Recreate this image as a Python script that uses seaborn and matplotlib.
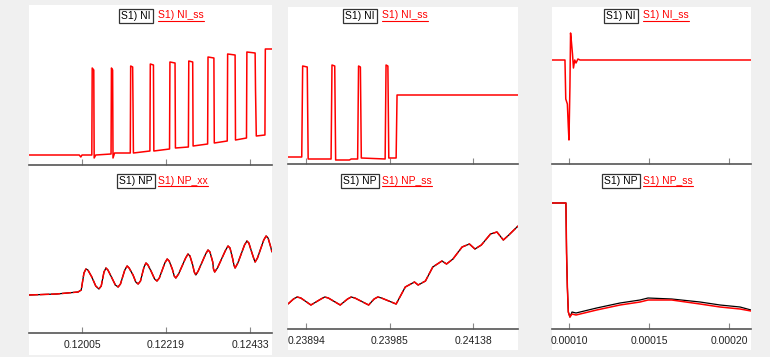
import numpy as np
import pandas as pd
import matplotlib.pyplot as plt
from matplotlib.patches import Rectangle
from matplotlib.lines import Line2D
import seaborn as sns

W, H = 770, 357
RED = "#ff0000"

# ---- column 1 (time in ms) ----
c1_ni_t = [118.70, 119.98, 120.02, 120.05, 120.30, 120.31, 120.35, 120.36, 120.40,
           120.79, 120.80, 120.83, 120.84, 120.88, 121.28, 121.29, 121.34, 121.35,
           121.36, 121.78, 121.79, 121.87, 121.88, 122.28, 122.29, 122.42, 122.43,
           122.76, 122.77, 122.87, 122.88, 123.25, 123.26, 123.41, 123.42, 123.75,
           123.76, 123.95, 123.96, 124.24, 124.25, 124.46, 124.47, 124.49, 124.71,
           124.72, 124.89]
c1_ni_v = [10, 10, 8, 10, 10, 97, 95, 7, 10,
           11, 97, 95, 7, 12, 12, 99, 98, 59,
           12, 14, 101, 100, 14, 16, 103, 102, 17,
           18, 104, 103, 19, 21, 108, 107, 22, 24,
           111, 110, 25, 27, 113, 112, 75, 29, 30,
           116, 116]
c1_np_t = [118.70, 119.40, 119.95, 120.03, 120.10, 120.15, 120.20, 120.30, 120.40,
           120.48, 120.54, 120.61, 120.66, 120.71, 120.80, 120.90, 120.97, 121.03,
           121.14, 121.20, 121.25, 121.35, 121.42, 121.48, 121.54, 121.63, 121.68,
           121.73, 121.82, 121.90, 121.96, 122.02, 122.16, 122.22, 122.27, 122.35,
           122.40, 122.44, 122.51, 122.69, 122.75, 122.80, 122.87, 122.91, 122.95,
           123.01, 123.20, 123.26, 123.31, 123.38, 123.40, 123.43, 123.50, 123.71,
           123.77, 123.82, 123.89, 123.92, 123.95, 124.02, 124.19, 124.25, 124.30,
           124.38, 124.43, 124.46, 124.52, 124.68, 124.74, 124.79, 124.85, 124.89]
c1_np_v = [38, 39, 41, 43, 60, 64, 63, 56, 47,
           44, 47, 61, 65, 63, 56, 48, 46, 49,
           63, 67, 65, 58, 51, 49, 52, 66, 70,
           68, 61, 54, 52, 55, 70, 74, 72, 64,
           57, 55, 59, 75, 79, 77, 68, 61, 58,
           62, 79, 83, 81, 71, 64, 61, 65, 83,
           87, 85, 74, 68, 65, 70, 88, 92, 90,
           80, 74, 71, 75, 93, 97, 95, 87, 81]
c1_ticks = [120.05, 122.19, 124.33]
c1_labels = ["0.12005", "0.12219", "0.12433"]

# ---- column 2 (time in ms) ----
c2_ni_t = [238.74, 238.89, 238.90, 238.95, 238.96, 239.21, 239.22, 239.25, 239.26,
           239.41, 239.43, 239.50, 239.51, 239.53, 239.54, 239.80, 239.81, 239.83,
           239.84, 239.92, 239.93, 241.25]
c2_ni_v = [7, 7, 98, 97, 5, 5, 99, 98, 4,
           4, 5, 5, 98, 97, 6, 5, 99, 98,
           6, 6, 69, 69]
c2_np_t = [238.74, 238.80, 238.84, 238.88, 238.99, 239.10, 239.14, 239.18, 239.31,
           239.39, 239.43, 239.47, 239.62, 239.68, 239.72, 239.76, 239.92, 240.02,
           240.12, 240.16, 240.24, 240.32, 240.42, 240.47, 240.54, 240.64, 240.72,
           240.78, 240.85, 240.95, 241.02, 241.09, 241.15, 241.25]
c2_np_v = [25, 30, 32, 31, 24, 30, 32, 31, 24,
           30, 32, 31, 24, 30, 32, 31, 25, 42,
           47, 44, 48, 62, 68, 65, 70, 82, 85,
           80, 84, 95, 97, 89, 94, 103]
c2_ticks = [238.94, 239.85, 240.76]
c2_labels = ["0.23894", "0.23985", "0.24138"]

# ---- column 3 (time in us) ----
c3_ni_t = [89.4, 97.5, 98.0, 99.0, 99.6, 100.0, 100.6, 101.0, 101.6,
           102.2, 102.8, 103.6, 104.4, 105.6, 106.9, 213.75]
c3_ni_v = [104, 104, 65, 60, 37, 24, 77, 131, 121,
           110, 96, 104, 101, 105, 104, 104]
c3_np_t = [89.4, 97.5, 98.1, 98.5, 99.0, 99.6, 100.6, 101.9, 104.4,
           117.3, 131.9, 144.4, 149.4, 164.2, 181.9, 194.4, 206.9, 213.75]
c3_np_black = [126, 126, 126, 76, 42, 17, 12, 17, 16,
               21, 26, 29, 31, 30, 27, 24, 22, 19]
c3_np_red = [126, 126, 126, 76, 42, 17, 12, 15, 14,
             19, 24, 27, 29, 29, 25, 22, 20, 18]
c3_ticks = [100, 150, 200]
c3_labels = ["0.00010", "0.00015", "0.00020"]

sns.set_theme(style="white")
plt.rcParams["font.family"] = ["Liberation Sans", "DejaVu Sans"]

fig = plt.figure(figsize=(W / 100, H / 100), dpi=100)
fig.patch.set_facecolor("#f0f0f0")


def frac(x0, y0, x1, y1):
    return [x0 / W, 1 - y1 / H, (x1 - x0) / W, (y1 - y0) / H]


for box in [(29, 5, 272, 355), (288, 7, 518, 350), (552, 7, 751, 350)]:
    r = frac(*box)
    fig.add_artist(Rectangle((r[0], r[1]), r[2], r[3], transform=fig.transFigure,
                             facecolor="white", edgecolor="none", zorder=0))


def style_axes(ax, xlim, ylim, ticks, labels, show_labels):
    ax.set_facecolor("none")
    ax.set_xlim(*xlim)
    ax.set_ylim(*ylim)
    for s in ["top", "left", "right"]:
        ax.spines[s].set_visible(False)
    ax.spines["bottom"].set_color("#555555")
    ax.spines["bottom"].set_linewidth(1.2)
    ax.set_yticks([])
    ax.set_xticks(ticks)
    ax.set_xticklabels(labels if show_labels else [])
    ax.tick_params(axis="x", direction="in", length=4, width=0.8, colors="#888888",
                   labelcolor="#222222", labelsize=7.5, pad=5, bottom=True)
    ax.set_xlabel("")
    ax.set_ylabel("")


def draw(ax, t, v, color, lw, dashes=None):
    sns.lineplot(x=t, y=v, ax=ax, color=color, linewidth=lw, estimator=None,
                 sort=False, legend=False)
    if dashes is not None:
        ax.lines[-1].set_dashes(dashes)


cols = [
    dict(up=(29, 5, 272, 165), lo=(29, 165, 272, 333), xlim=(118.70, 124.89),
         ni=(c1_ni_t, c1_ni_v), np_t=c1_np_t, np_b=c1_np_v, np_r=c1_np_v,
         ticks=c1_ticks, labels=c1_labels, ylim_up=(0, 160), ylim_lo=(0, 168),
         dashed=True),
    dict(up=(288, 7, 518, 164), lo=(288, 164, 518, 329), xlim=(238.74, 241.25),
         ni=(c2_ni_t, c2_ni_v), np_t=c2_np_t, np_b=c2_np_v, np_r=c2_np_v,
         ticks=c2_ticks, labels=c2_labels, ylim_up=(0, 157), ylim_lo=(0, 165),
         dashed=True),
    dict(up=(552, 7, 751, 164), lo=(552, 164, 751, 329), xlim=(89.4, 213.75),
         ni=(c3_ni_t, c3_ni_v), np_t=c3_np_t, np_b=c3_np_black, np_r=c3_np_red,
         ticks=c3_ticks, labels=c3_labels, ylim_up=(0, 157), ylim_lo=(0, 165),
         dashed=False),
]

for c in cols:
    ax_u = fig.add_axes(frac(*c["up"]))
    draw(ax_u, c["ni"][0], c["ni"][1], RED, 1.1)
    style_axes(ax_u, c["xlim"], c["ylim_up"], c["ticks"], c["labels"], False)

    ax_l = fig.add_axes(frac(*c["lo"]))
    draw(ax_l, c["np_t"], c["np_b"], "black", 0.9)
    draw(ax_l, c["np_t"], c["np_r"], RED, 1.1, (6, 1.2) if c["dashed"] else None)
    style_axes(ax_l, c["xlim"], c["ylim_lo"], c["ticks"], c["labels"], True)

# legend labels: (box centre x, centre y, red text left x, black name, red name)
legends = [
    (136, 16, 158, "S1) NI", "S1) NI_ss"),
    (136, 181, 158, "S1) NP", "S1) NP_xx"),
    (360, 16, 382, "S1) NI", "S1) NI_ss"),
    (360, 181, 382, "S1) NP", "S1) NP_ss"),
    (621, 16, 643, "S1) NI", "S1) NI_ss"),
    (621, 181, 643, "S1) NP", "S1) NP_ss"),
]
red_texts = []
for bx, by, rx, name, name_ss in legends:
    fig.text(bx / W, 1 - by / H, name, ha="center", va="center", fontsize=7.5,
             color="black",
             bbox=dict(boxstyle="square,pad=0.2", facecolor="white",
                       edgecolor="#333333", linewidth=0.9))
    rt = fig.text(rx / W, 1 - (by - 0.5) / H, name_ss, ha="left", va="center",
                  fontsize=7.5, color=RED)
    red_texts.append((rt, by))

fig.canvas.draw()
renderer = fig.canvas.get_renderer()
for rt, by in red_texts:
    bb = rt.get_window_extent(renderer)
    yl = 1 - (by + 5) / H
    fig.add_artist(Line2D([bb.x0 / W, bb.x1 / W], [yl, yl], transform=fig.transFigure,
                          color=RED, linewidth=0.8))

fig.savefig("out.png", dpi=100, facecolor=fig.get_facecolor())
